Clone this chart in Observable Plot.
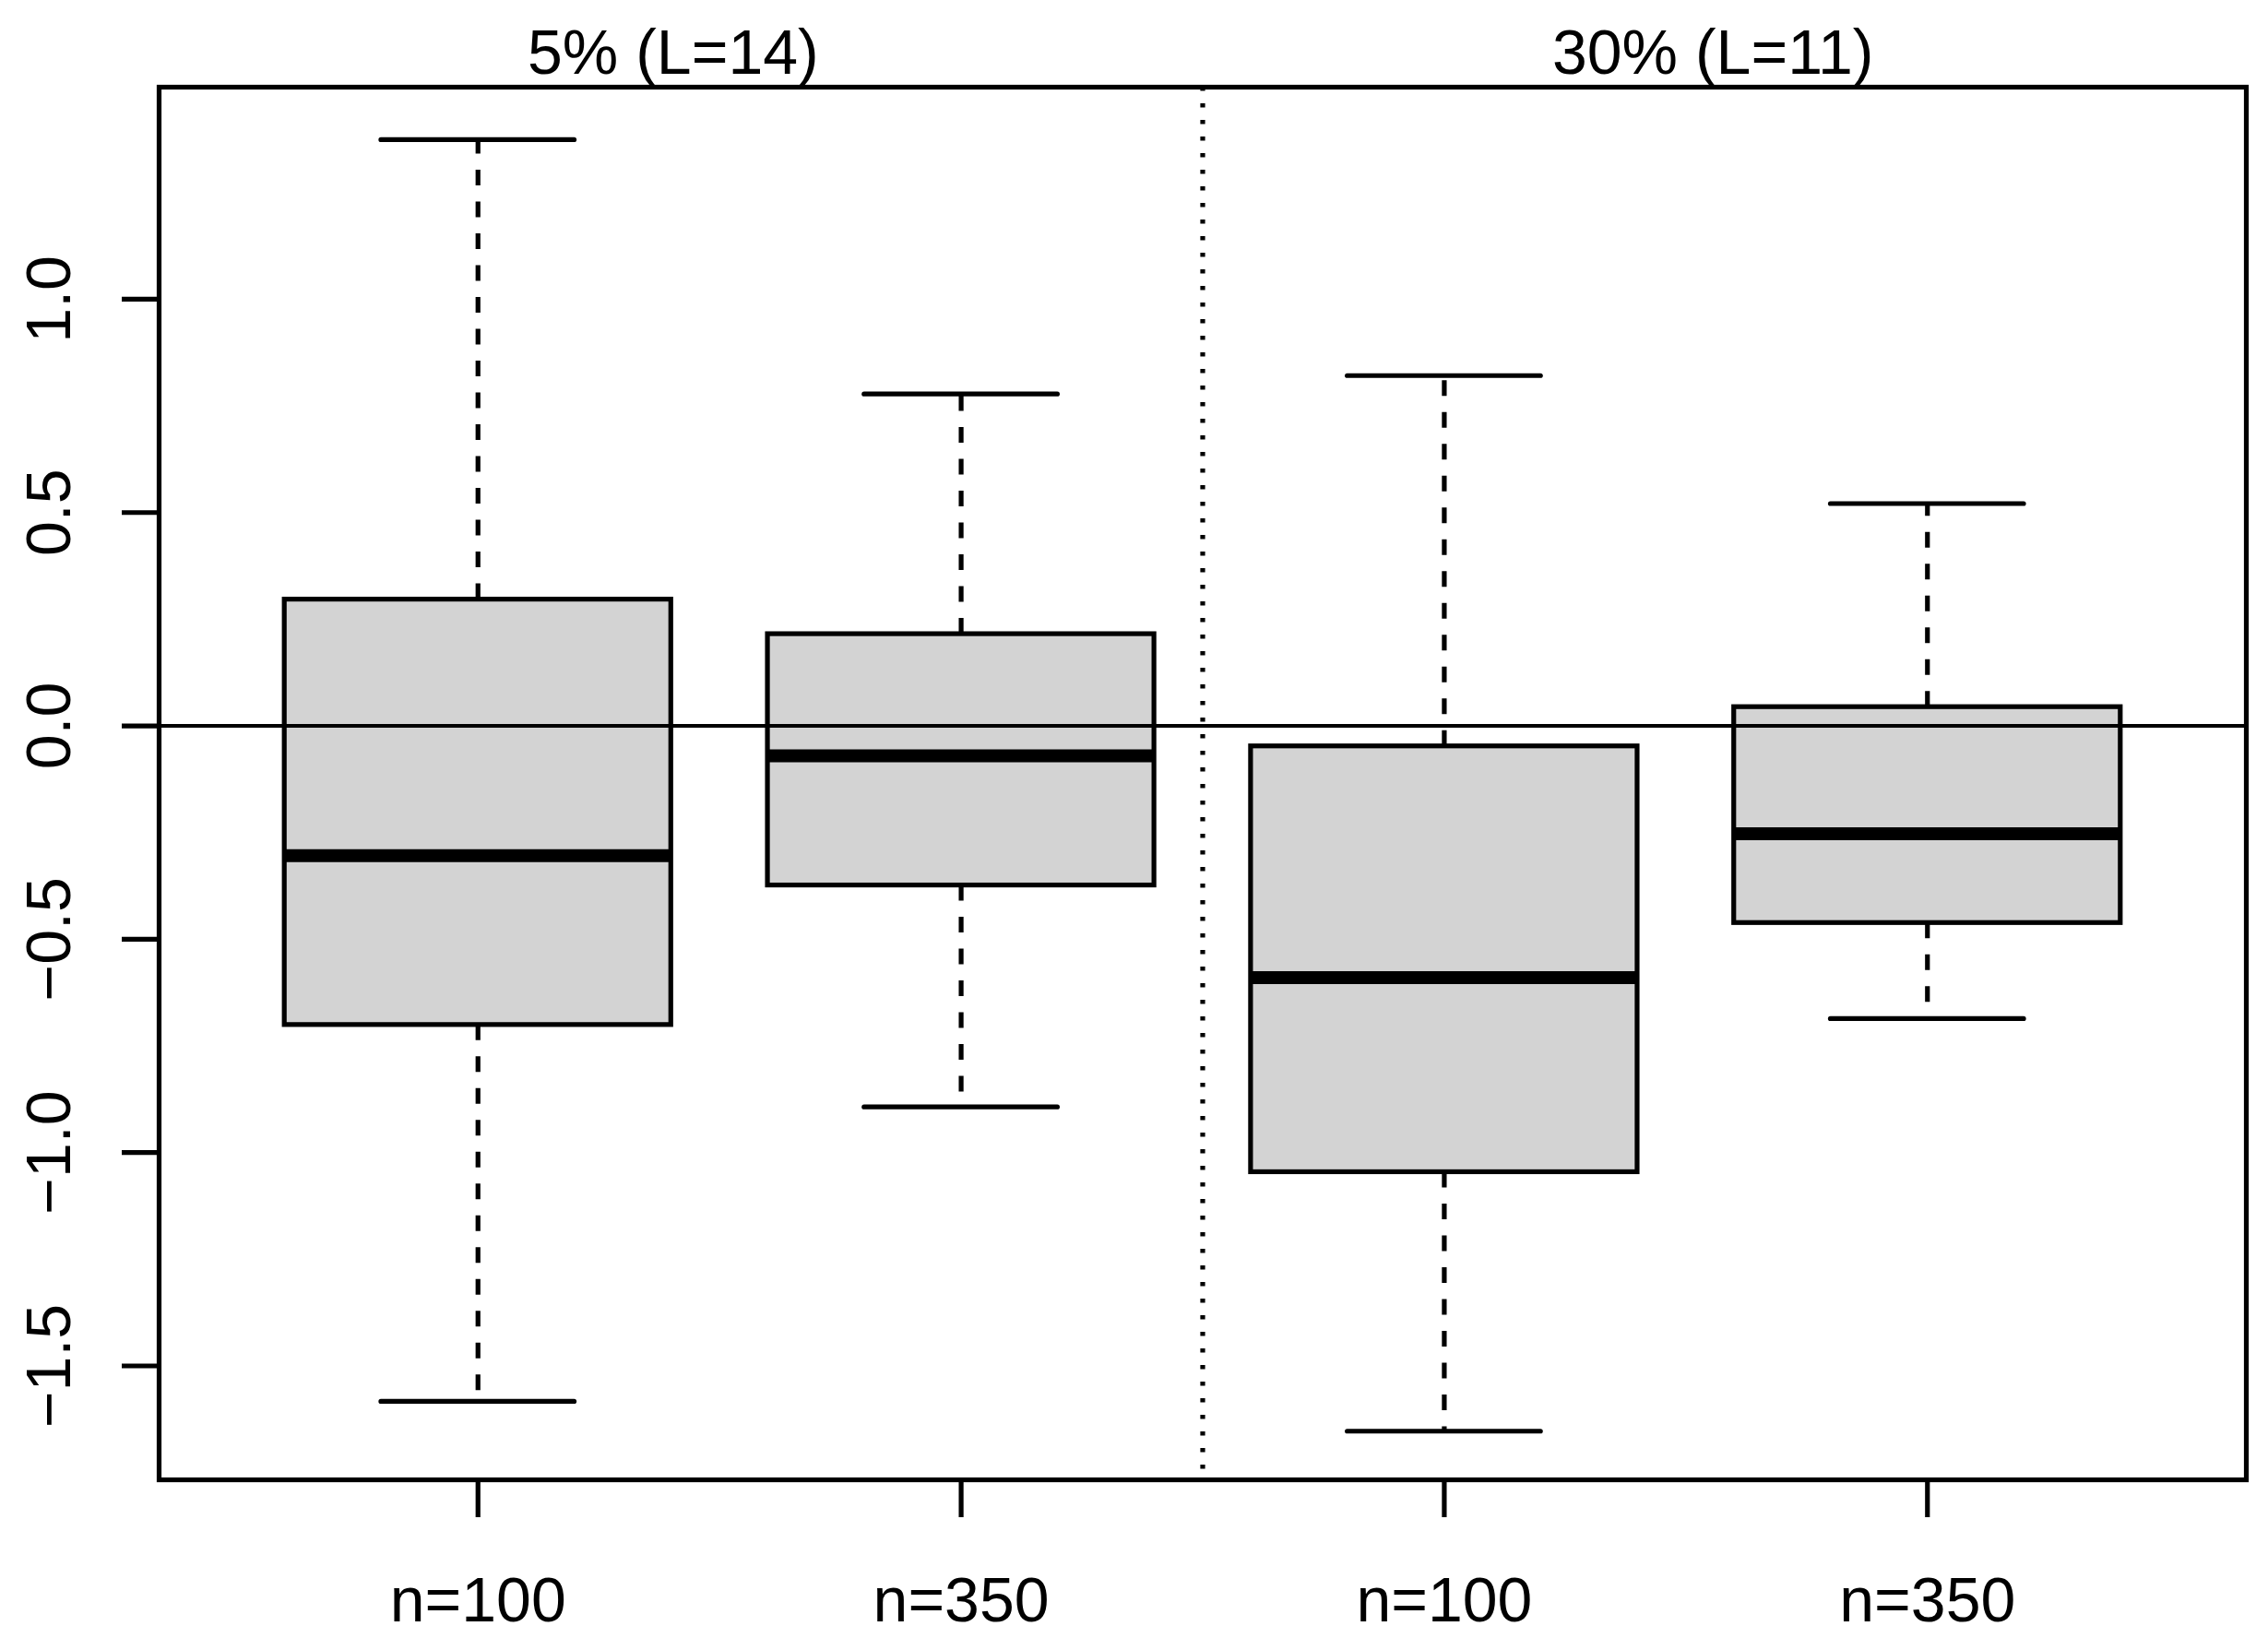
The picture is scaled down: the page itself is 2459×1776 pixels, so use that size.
<!DOCTYPE html>
<html><head><meta charset="utf-8">
<script src="https://cdn.jsdelivr.net/npm/d3@7"></script>
<script src="https://cdn.jsdelivr.net/npm/@observablehq/plot@0.6"></script>
<style>html,body{margin:0;padding:0;background:#fff;overflow:hidden}</style>
</head><body><div id="chart"></div>
<script>
// Data
const categories = ["n=100", "n=350", "n=100", "n=350"];
const groupLabels = ["5% (L=14)", "30% (L=11)"];
const groupLabelAt = [1.404, 3.556];
const lowerWhisker = [-1.583, -0.893, -1.653, -0.686];
const lowerHinge   = [-0.701, -0.374, -1.046, -0.462];
const medians      = [-0.304, -0.070, -0.590, -0.253];
const upperHinge   = [ 0.296,  0.215, -0.048,  0.044];
const upperWhisker = [ 1.374,  0.778,  0.821,  0.521];
const yTicks = [-1.5, -1, -0.5, 0, 0.5, 1];
const separatorAt = [2.5];
const referenceLine = [0];

const positions = categories.map((c, i) => i + 1);
const rows = categories.map((c, i) => ({
  pos: positions[i], label: c,
  lo: lowerWhisker[i], q1: lowerHinge[i], med: medians[i], q3: upperHinge[i], hi: upperWhisker[i]
}));
const whiskers = rows.flatMap(d => [
  {pos: d.pos, from: d.q3, to: d.hi},
  {pos: d.pos, from: d.q1, to: d.lo}
]);
const titles = groupLabels.map((t, i) => ({text: t, at: groupLabelAt[i]}));

const BOX = 0.4, CAP = 0.2, LW = 5.2;

const chart = Plot.plot({
  width: 2459,
  height: 1776,
  marginLeft: 172,
  marginRight: 24,
  marginTop: 94,
  marginBottom: 172,
  style: {fontFamily: "'Liberation Sans', Arial, sans-serif", fontSize: "68px", background: "white", color: "black"},
  x: {domain: [0.34, 4.66], axis: null},
  y: {domain: [-1.767, 1.497], axis: null},
  marks: [
    Plot.ruleX(whiskers, {x: "pos", y1: "from", y2: "to", stroke: "black", strokeWidth: LW, strokeDasharray: "17,17.5"}),
    Plot.ruleY(rows, {y: "hi", x1: d => d.pos - CAP, x2: d => d.pos + CAP, stroke: "black", strokeWidth: LW, strokeLinecap: "round"}),
    Plot.ruleY(rows, {y: "lo", x1: d => d.pos - CAP, x2: d => d.pos + CAP, stroke: "black", strokeWidth: LW, strokeLinecap: "round"}),
    Plot.rect(rows, {x1: d => d.pos - BOX, x2: d => d.pos + BOX, y1: "q1", y2: "q3", fill: "#d3d3d3", stroke: "black", strokeWidth: LW}),
    Plot.ruleY(rows, {y: "med", x1: d => d.pos - BOX, x2: d => d.pos + BOX, stroke: "black", strokeWidth: 14}),
    Plot.ruleY(referenceLine, {stroke: "black", strokeWidth: 4}),
    Plot.ruleX(separatorAt, {stroke: "black", strokeWidth: LW, strokeDasharray: "4.5,13.5"}),
    Plot.frame({stroke: "black", strokeWidth: LW}),
    Plot.axisX({anchor: "bottom", ticks: positions, tickFormat: p => categories[p - 1], tickSize: 41, tickPadding: 64, fontSize: 68, stroke: "black", strokeWidth: LW, fill: "black", label: null}),
    Plot.axisY({anchor: "left", ticks: yTicks, tickFormat: d3.format(".1f"), tickSize: 40, tickPadding: 57, tickRotate: -90, fontSize: 68, stroke: "black", strokeWidth: LW, fill: "black", label: null}),
    Plot.text(titles, {x: "at", text: "text", frameAnchor: "top", lineAnchor: "bottom", dy: -15, fontSize: 68, fill: "black"})
  ]
});
document.getElementById("chart").appendChild(chart);
</script>
</body></html>
